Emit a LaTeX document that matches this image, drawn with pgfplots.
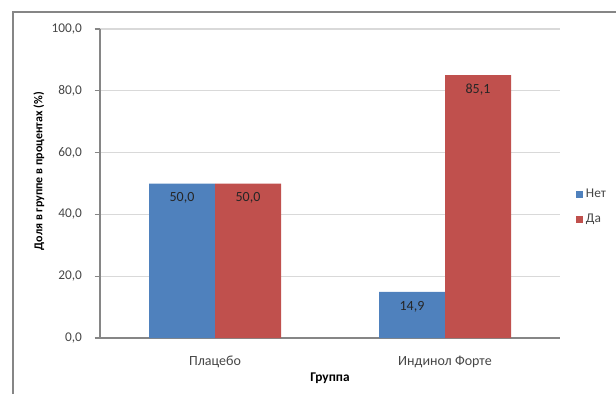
\documentclass[border=0pt]{standalone}
\usepackage{fontspec}
\setmainfont{Carlito}
\usepackage{pgfplots}
\pgfplotsset{compat=1.18}
\definecolor{xlblue}{RGB}{79,129,189}
\definecolor{xlred}{RGB}{192,80,77}
\definecolor{gridc}{RGB}{217,217,217}
\definecolor{axisc}{RGB}{134,134,134}
\definecolor{tickc}{RGB}{70,70,70}
\begin{document}
\begin{tikzpicture}
\draw[axisc, line width=1.1pt] (9.75pt,0pt) -- (9.75pt,286.5pt) -- (470pt,286.5pt);
\begin{axis}[
  at={(75pt,42pt)}, anchor=south west,
  scale only axis,
  width=345pt, height=231.75pt,
  ymin=0, ymax=100,
  xmin=-0.5, xmax=1.5,
  ytick={0,20,40,60,80,100},
  xtick={0,1},
  xticklabels={Плацебо, Индинол Форте},
  ybar=0pt,
  bar width=49.5pt,
  ymajorgrids,
  grid style={gridc, line width=0.8pt},
  axis line style={axisc, line width=0.8pt},
  axis x line*=bottom,
  axis y line*=left,
  x axis line style={-},
  y axis line style={-},
  major tick length=4pt,
  tick style={axisc, line width=0.8pt},
  ytick pos=left,
  tick align=outside,
  xtick style={draw=none},
  /pgf/number format/assume math mode=true,
  /pgf/number format/.cd, fixed, fixed zerofill, precision=1, use comma,
  /pgfplots/.cd,
  yticklabel style={font=\fontsize{10}{11}\selectfont, text=tickc, anchor=east, xshift=-6pt},
  xticklabel style={font=\fontsize{10.5}{11}\selectfont, text=tickc, anchor=center, yshift=-14pt},
  ylabel={\textbf{Доля в группе в процентах (\%)}},
  xlabel={\textbf{Группа}},
  every axis y label/.style={at={(axis description cs:-0.1326,0.54)}, rotate=90, anchor=center, font=\fontsize{9}{10}\selectfont},
  every axis x label/.style={at={(axis description cs:0.5,0)}, anchor=center, yshift=-30pt, font=\fontsize{10}{11}\selectfont},
  nodes near coords,
  every node near coord/.append style={anchor=center, yshift=-11pt, font=\fontsize{10.5}{11}\selectfont, text=black!85},
  legend style={at={(1.035,0.424)}, anchor=west, draw=none, fill=none, font=\fontsize{10}{11}\selectfont, text=tickc, row sep=7pt, inner sep=0pt},
  legend cell align=left,
  legend image code/.code={\fill[#1] (0pt,-2.6pt) rectangle (5.2pt,2.6pt);},
]
\addplot[fill=xlblue, draw=none] coordinates {(0,50.0) (1,14.9)};
\addplot[fill=xlred, draw=none] coordinates {(0,50.0) (1,85.1)};
\legend{Нет, Да}
\end{axis}
\pgfresetboundingbox
\path[use as bounding box] (0,0) rectangle (462pt,295.5pt);
\end{tikzpicture}
\end{document}
